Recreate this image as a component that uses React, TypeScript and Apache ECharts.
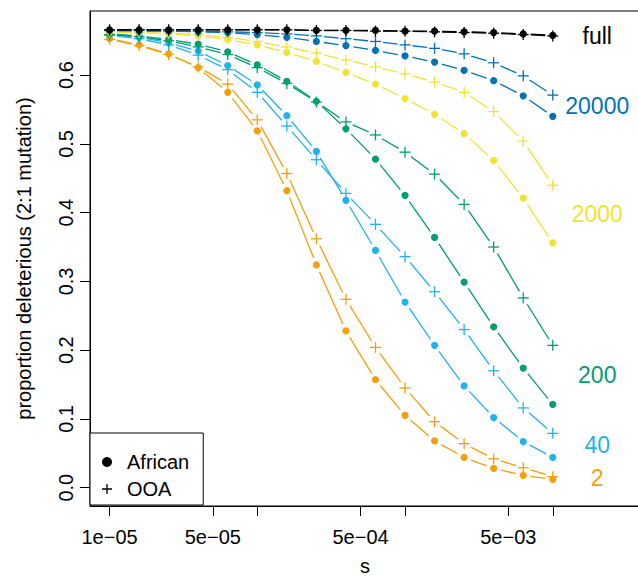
import React, { useEffect, useRef } from "react";
import * as echarts from "echarts";

// selection coefficient s (log-spaced grid)
const sValues = [1e-5, 1.585e-5, 2.512e-5, 3.981e-5, 6.31e-5, 1e-4, 1.585e-4, 2.512e-4, 3.981e-4, 6.31e-4, 1e-3, 1.585e-3, 2.512e-3, 3.981e-3, 6.31e-3, 1e-2];

// proportion deleterious, African (dots) and OOA (plus) per population size
const africanFull = [0.666, 0.666, 0.666, 0.666, 0.666, 0.666, 0.666, 0.665, 0.665, 0.665, 0.664, 0.664, 0.663, 0.662, 0.660, 0.658];
const ooaFull = [0.666, 0.666, 0.666, 0.666, 0.666, 0.666, 0.666, 0.665, 0.665, 0.664, 0.664, 0.663, 0.662, 0.661, 0.659, 0.657];
const african20000 = [0.665, 0.664, 0.664, 0.663, 0.662, 0.659, 0.655, 0.649, 0.643, 0.636, 0.628, 0.619, 0.607, 0.592, 0.570, 0.540];
const ooa20000 = [0.665, 0.665, 0.664, 0.664, 0.663, 0.662, 0.660, 0.657, 0.653, 0.649, 0.644, 0.639, 0.631, 0.618, 0.599, 0.571];
const african2000 = [0.663, 0.662, 0.660, 0.657, 0.652, 0.644, 0.633, 0.620, 0.604, 0.587, 0.566, 0.543, 0.515, 0.476, 0.421, 0.356];
const ooa2000 = [0.663, 0.662, 0.661, 0.659, 0.655, 0.649, 0.641, 0.632, 0.622, 0.612, 0.602, 0.590, 0.575, 0.547, 0.504, 0.440];
const african200 = [0.660, 0.657, 0.652, 0.645, 0.634, 0.615, 0.591, 0.562, 0.522, 0.478, 0.425, 0.364, 0.299, 0.234, 0.174, 0.121];
const ooa200 = [0.659, 0.656, 0.650, 0.641, 0.630, 0.611, 0.588, 0.561, 0.532, 0.513, 0.488, 0.456, 0.412, 0.350, 0.276, 0.207];
const african40 = [0.659, 0.655, 0.647, 0.635, 0.614, 0.586, 0.541, 0.489, 0.418, 0.345, 0.270, 0.207, 0.148, 0.102, 0.067, 0.044];
const ooa40 = [0.658, 0.653, 0.644, 0.629, 0.608, 0.575, 0.526, 0.477, 0.428, 0.383, 0.336, 0.285, 0.230, 0.170, 0.116, 0.079];
const african2 = [0.653, 0.644, 0.631, 0.611, 0.575, 0.519, 0.432, 0.324, 0.228, 0.157, 0.105, 0.068, 0.044, 0.028, 0.018, 0.012];
const ooa2 = [0.652, 0.643, 0.630, 0.612, 0.587, 0.535, 0.457, 0.362, 0.274, 0.204, 0.145, 0.096, 0.064, 0.042, 0.029, 0.016];

const groupNames = ["2", "40", "200", "2000", "20000", "full"];
const groupColors = ["#F5A00A", "#1FB3EC", "#009E73", "#F2E232", "#0072B8", "#000000"];
const africanByGroup = [african2, african40, african200, african2000, african20000, africanFull];
const ooaByGroup = [ooa2, ooa40, ooa200, ooa2000, ooa20000, ooaFull];

const labelS = 0.02;

const xTickValues = [1e-5, 5e-5, 1e-4, 5e-4, 1e-3, 5e-3, 1e-2];
const xTickLabels = ["1e\u221205", "5e\u221205", "", "5e\u221204", "", "5e\u221203", ""];
const yTickValues = [0, 0.1, 0.2, 0.3, 0.4, 0.5, 0.6];

const FONT = "'Liberation Sans', Arial, Helvetica, sans-serif";
const X_MIN = -5.1324;
const X_MAX = -1.4095;
const Y_MIN = -0.02667;
const Y_MAX = 0.6933;
const GAP = 7.5;

function buildCurve(name: string, color: string, ys: number[]) {
  const lx = sValues.map((s) => Math.log10(s));
  const data = ys.map((y, i) => {
    const j = i < ys.length - 1 ? i + 1 : i;
    return [lx[i], y, lx[j], ys[j]];
  });
  const last = ys.length - 1;
  return {
    type: "custom",
    name,
    dimensions: ["x", "y", "x2", "y2"],
    encode: { x: "x", y: "y" },
    data,
    z: 3,
    renderItem: (params: any, api: any) => {
      const p = api.coord([api.value(0), api.value(1)]);
      const children: any[] = [];
      if (params.dataIndex < last) {
        const q = api.coord([api.value(2), api.value(3)]);
        const dx = q[0] - p[0];
        const dy = q[1] - p[1];
        const d = Math.hypot(dx, dy);
        if (d > 2 * GAP) {
          const ux = dx / d;
          const uy = dy / d;
          children.push({
            type: "line",
            shape: { x1: p[0] + ux * GAP, y1: p[1] + uy * GAP, x2: q[0] - ux * GAP, y2: q[1] - uy * GAP },
            style: { stroke: color, lineWidth: 1.3, fill: null },
          });
        }
      }
      if (name === "African") {
        children.push({ type: "circle", shape: { cx: p[0], cy: p[1], r: 3.6 }, style: { fill: color } });
      } else {
        const h = 5.5;
        children.push({ type: "line", shape: { x1: p[0] - h, y1: p[1], x2: p[0] + h, y2: p[1] }, style: { stroke: color, lineWidth: 1.3 } });
        children.push({ type: "line", shape: { x1: p[0], y1: p[1] - h, x2: p[0], y2: p[1] + h }, style: { stroke: color, lineWidth: 1.3 } });
      }
      return { type: "group", children };
    },
  };
}

export default function App() {
  const ref = useRef<HTMLDivElement>(null);
  useEffect(() => {
    document.body.style.margin = "0";
    if (!ref.current) return;
    const chart = echarts.init(ref.current, null, { renderer: "svg" });

    const series: any[] = [];
    groupNames.forEach((g, gi) => {
      series.push(buildCurve("African", groupColors[gi], africanByGroup[gi]));
      series.push(buildCurve("OOA", groupColors[gi], ooaByGroup[gi]));
    });

    const labelData = groupNames.map((g, gi) => {
      const a = africanByGroup[gi];
      const o = ooaByGroup[gi];
      return [Math.log10(labelS), (a[a.length - 1] + o[o.length - 1]) / 2];
    });
    series.push({
      type: "custom",
      name: "labels",
      data: labelData,
      z: 4,
      renderItem: (params: any, api: any) => {
        const p = api.coord([api.value(0), api.value(1)]);
        const i = params.dataIndex;
        return {
          type: "text",
          x: p[0],
          y: p[1],
          style: {
            text: groupNames[i],
            fill: groupColors[i],
            fontSize: 23,
            fontFamily: FONT,
            align: "center",
            verticalAlign: "middle",
          },
        };
      },
    });

    const xLabelled = xTickValues.filter((_, i) => xTickLabels[i] !== "");

    chart.setOption({
      animation: false,
      textStyle: { fontFamily: FONT },
      grid: {
        left: 90,
        top: 11,
        width: 550,
        height: 495,
        show: true,
        borderColor: "#000",
        borderWidth: 1,
        backgroundColor: "transparent",
        containLabel: false,
        outerBoundsMode: "none",
      },
      legend: {
        show: true,
        orient: "vertical",
        left: 90,
        top: 433,
        padding: [19, 14, 6, 12],
        itemGap: 7,
        itemWidth: 10,
        itemHeight: 10,
        borderColor: "#000",
        borderWidth: 1,
        borderRadius: 0,
        backgroundColor: "#fff",
        selectedMode: false,
        textStyle: { fontSize: 20, color: "#000", fontFamily: FONT, padding: [0, 0, 0, 10] },
        data: [
          { name: "African", icon: "circle", itemStyle: { color: "#000" } },
          { name: "OOA", icon: "path://M4.35,0H5.65V4.35H10V5.65H5.65V10H4.35V5.65H0V4.35H4.35Z", itemStyle: { color: "#000" } },
        ],
      },
      xAxis: {
        type: "value",
        min: X_MIN,
        max: X_MAX,
        name: "s",
        nameLocation: "middle",
        nameGap: 50,
        nameTextStyle: { fontSize: 20, color: "#000", fontFamily: FONT },
        splitLine: { show: false },
        axisLine: { show: true, onZero: false, lineStyle: { color: "#000", width: 1 } },
        axisTick: {
          show: true,
          inside: false,
          length: 10,
          customValues: xTickValues.map((v) => Math.log10(v)),
          lineStyle: { color: "#000", width: 1 },
        },
        axisLabel: {
          show: true,
          customValues: xLabelled.map((v) => Math.log10(v)),
          margin: 21,
          fontSize: 20,
          color: "#000",
          fontFamily: FONT,
          formatter: (v: number) => {
            let best = 0;
            xTickValues.forEach((t, i) => {
              if (Math.abs(Math.log10(t) - v) < Math.abs(Math.log10(xTickValues[best]) - v)) best = i;
            });
            return xTickLabels[best];
          },
        },
      },
      yAxis: {
        type: "value",
        min: Y_MIN,
        max: Y_MAX,
        name: "proportion deleterious (2:1 mutation)",
        nameLocation: "middle",
        nameGap: 56,
        nameRotate: 90,
        nameTextStyle: { fontSize: 20, color: "#000", fontFamily: FONT },
        splitLine: { show: false },
        axisLine: { show: true, onZero: false, lineStyle: { color: "#000", width: 1 } },
        axisTick: {
          show: true,
          inside: false,
          length: 10,
          customValues: yTickValues,
          lineStyle: { color: "#000", width: 1 },
        },
        axisLabel: {
          show: true,
          customValues: yTickValues,
          rotate: 90,
          margin: 14,
          fontSize: 20,
          color: "#000",
          fontFamily: FONT,
          formatter: (v: number) => v.toFixed(1),
        },
      },
      series,
    });
    return () => chart.dispose();
  }, []);
  return <div ref={ref} style={{ width: 638, height: 579 }} />;
}
